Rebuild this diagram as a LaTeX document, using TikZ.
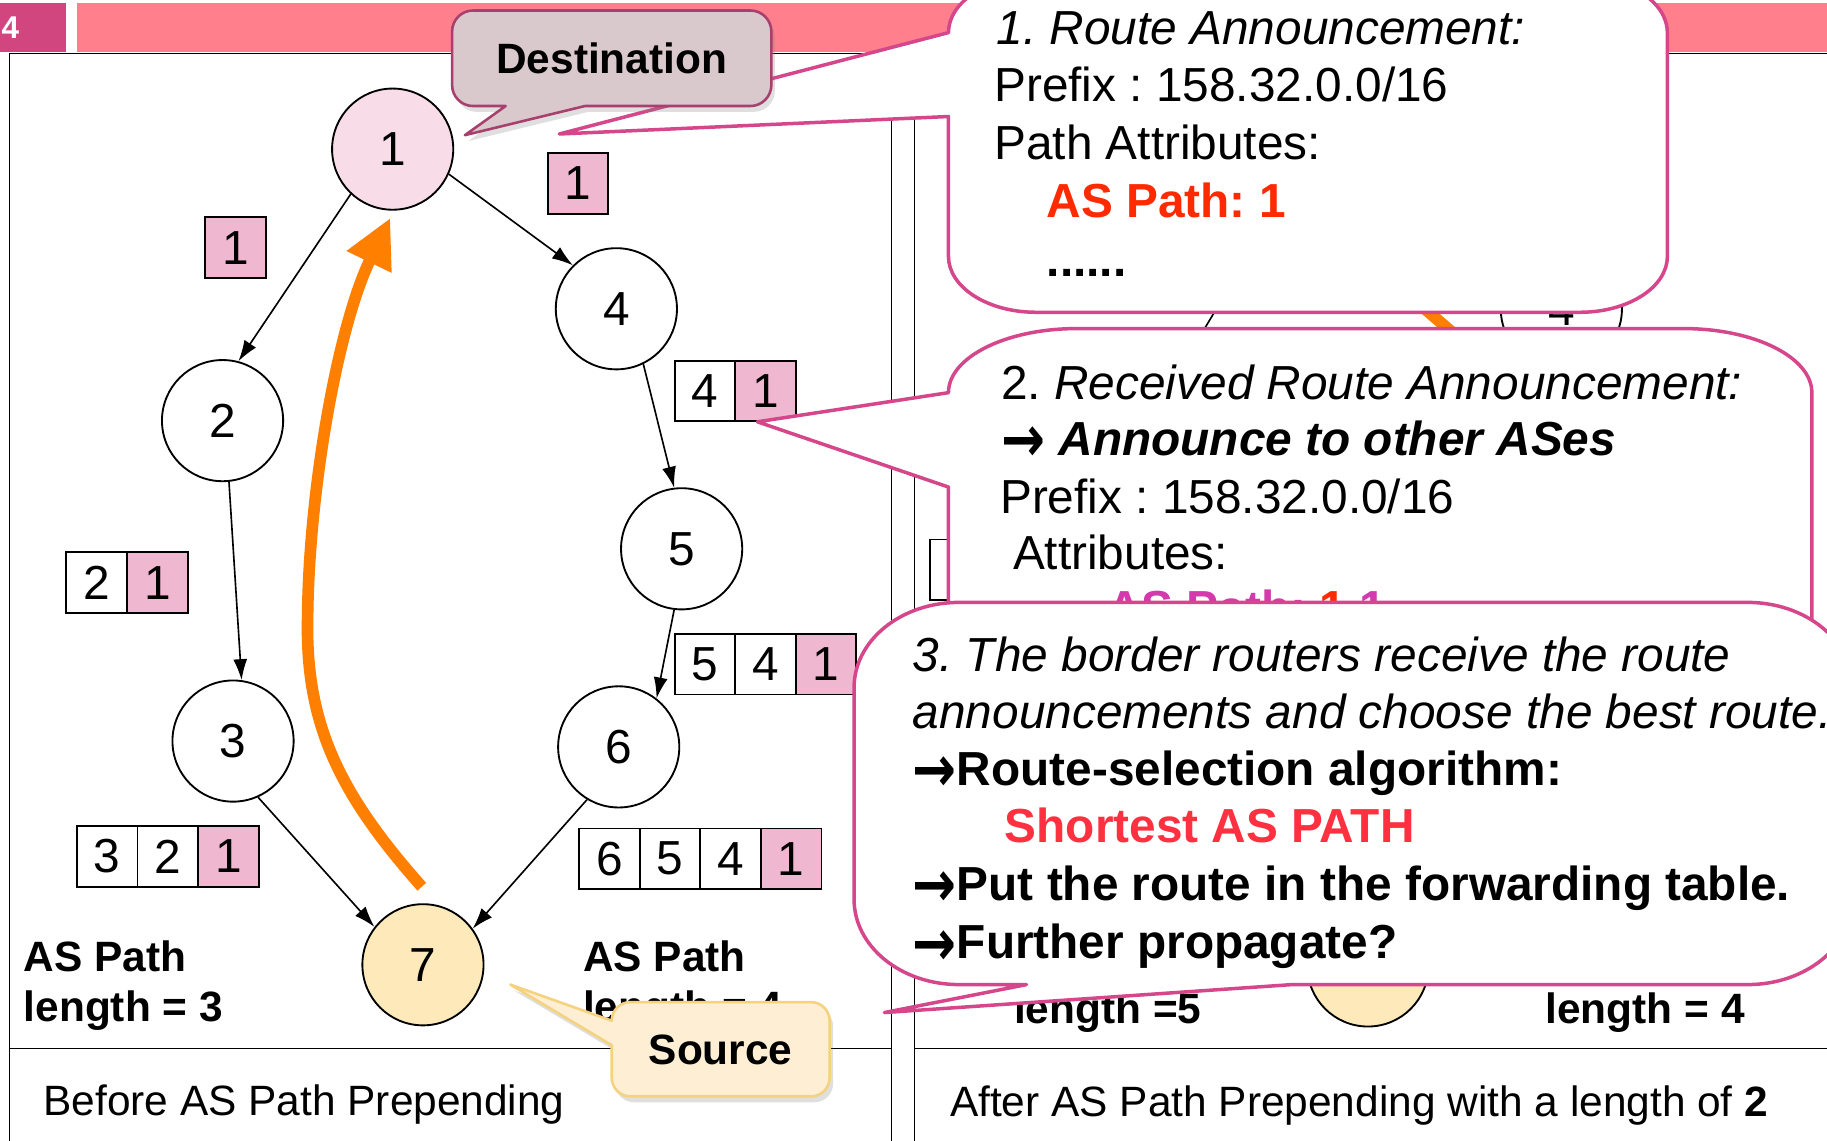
\documentclass[tikz,border=0pt]{standalone}
\usepackage{fontspec}
\setmainfont{Liberation Sans}
\newfontfamily\arrowfont{DejaVu Sans}
\usetikzlibrary{arrows.meta,shadows}
\frenchspacing

\definecolor{hdrdark}{HTML}{D1467F}
\definecolor{hdrlight}{HTML}{FF7F8D}
\definecolor{cellpink}{HTML}{F0B7D0}
\definecolor{destnode}{HTML}{F8DCE8}
\definecolor{srcnode}{HTML}{FDE9B9}
\definecolor{calloutline}{HTML}{D5478A}
\definecolor{destfill}{HTML}{D9C9CD}
\definecolor{destline}{HTML}{A8406E}
\definecolor{srcfill}{HTML}{FDEED4}
\definecolor{srcline}{HTML}{F5D27F}
\definecolor{flow}{HTML}{FF7F00}
\definecolor{aspathred}{HTML}{FF2A00}
\definecolor{shortred}{HTML}{FF3040}
\definecolor{aspathmag}{HTML}{D43AAE}

\newcommand\txtbig{\fontsize{20.5pt}{24pt}\selectfont}
\newcommand\txtmid{\fontsize{18.2pt}{22pt}\selectfont}
\newcommand\boldarrow{\raisebox{-0.13em}{\scalebox{1.1}[1.35]{\arrowfont\bfseries\upshape →}}}

\begin{document}
\begin{tikzpicture}[x=0.5pt, y=-0.5pt,
  asnode/.style={circle, draw, line width=0.8pt, minimum size=52pt, inner sep=0pt, font=\txtbig, fill=white},
  cell/.style={rectangle, draw, line width=0.8pt, minimum width=26pt, minimum height=26pt, inner sep=0pt, font=\txtbig, fill=white},
  pcell/.style={cell, fill=cellpink},
  link/.style={line width=0.7pt, -{Latex[length=9pt,width=6pt]}},
  panel/.style={line width=0.7pt},
  ctext/.style={anchor=base west, inner sep=0pt, font=\txtbig},
  aslabel/.style={anchor=base west, inner sep=0pt, font=\txtmid\bfseries},
  capt/.style={anchor=base west, inner sep=0pt, font=\txtmid},
  bubble/.style={draw=calloutline, line width=1.5pt, fill=white, line join=round},
  flowarrow/.style={draw=flow, line width=5pt, -{Triangle[length=21pt,width=20pt]}}
]
\clip (0,0) rectangle (1568,979);
\fill[white] (0,0) rectangle (1568,979);

% slide header
\fill[hdrdark] (0,3) rectangle (57,45);
\node[anchor=base west, inner sep=0pt, text=white, font=\fontsize{13.5pt}{15pt}\selectfont\bfseries] (slidenum) at (1,33) {4};
\fill[hdrlight] (66,3) rectangle (1568,45);

% the two panels
\draw[panel] (8,979) -- (8,46) -- (765,46) -- (765,979);
\draw[panel] (785,979) -- (785,46) -- (1568,46);
\draw[panel] (8,900) -- (765,900);
\draw[panel] (785,900) -- (1568,900);

% right panel: after prepending
\node[asnode] (r4) at (1340,265) {4};
\coordinate (ra) at (1020,305);
\coordinate (rb) at (1056,245);
\draw[panel] (ra) -- (rb);
\coordinate (rc) at (1210,254);
\coordinate (rd) at (1260,297);
\draw[draw=flow, line width=5pt] (rc) -- (rd);
\node[cell] (rcell) at (824,489) {};
\node[asnode, fill=srcnode] (r7) at (1174,829) {};
\node[aslabel] (rlen5) at (870,878) {length =5};
\node[aslabel] (rlen4) at (1326,878) {length = 4};
\node[capt] (capR) at (815,958) {After AS Path Prepending with a length of \textbf{2}};

% left panel: before prepending
\node[asnode, fill=destnode] (n1) at (337,128) {1};
\node[asnode] (n4) at (529,265) {4};
\node[asnode] (n2) at (191,361) {2};
\node[asnode] (n5) at (585,471) {5};
\node[asnode] (n3) at (200,636) {3};
\node[asnode] (n6) at (531,641) {6};
\node[asnode, fill=srcnode] (n7) at (363,828) {7};

\draw[link] (n1.227) -- (n2.75);
\draw[link] (n1.336) -- (n4.135);
\draw[link] (n2.276) -- (n3.82);
\draw[link] (n4.296) -- (n5.97);
\draw[link] (n5.263) -- (n6.52);
\draw[link] (n3.294) -- (n7.142);
\draw[link] (n6.239) -- (n7.36);

% traffic direction
\draw[flowarrow] (362,761) .. controls (290,680) and (262,620) .. (264,530)
  .. controls (265,420) and (290,280) .. (335,187);

% AS path records
\node[pcell] (pa1) at (496,157.5) {1};
\node[pcell] (pb1) at (202,212.5) {1};
\node[cell]  (pc4) at (605,335.5) {4};
\node[pcell] (pc1) at (657,335.5) {1};
\node[cell]  (pd2) at (83,500) {2};
\node[pcell] (pd1) at (135,500) {1};
\node[cell]  (pe5) at (605,570) {5};
\node[cell]  (pe4) at (657,570) {4};
\node[pcell] (pe1) at (709,570) {1};
\node[cell]  (pf3) at (92,735) {3};
\node[cell]  (pf2) at (144,735) {2};
\node[pcell] (pf1) at (196,735) {1};
\node[cell]  (pg6) at (523,737) {6};
\node[cell]  (pg5) at (575,737) {5};
\node[cell]  (pg4) at (627,737) {4};
\node[pcell] (pg1) at (679,737) {1};

\node[aslabel] (lpA) at (20,834) {AS Path};
\node[aslabel] (lpB) at (20,877) {length = 3};
\node[aslabel] (rpA) at (500,834) {AS Path};
\node[aslabel] (rpB) at (500,877) {length = 4};
\node[capt] (capL) at (37,957) {Before AS Path Prepending};

% Source callout
\path[draw=srcline, line width=1.1pt, fill=srcfill, line join=round,
  drop shadow={opacity=0.25, shadow xshift=1.5pt, shadow yshift=-2.5pt}]
  (438,845) -- (525,876) .. controls (525,867.2) and (532.2,860) .. (541,860)
  -- (696,860) .. controls (704.8,860) and (712,867.2) .. (712,876)
  -- (712,925) .. controls (712,933.8) and (704.8,941) .. (696,941)
  -- (541,941) .. controls (532.2,941) and (525,933.8) .. (525,925)
  -- (525,897) -- cycle;
\node[font=\txtmid\bfseries, inner sep=0pt] (src) at (618.5,901) {Source};

% callout 1: route announcement
\path[bubble]
  (480,115) -- (814,28) .. controls (814,1.5) and (847.6,-20) .. (889,-20)
  -- (1356,-20) .. controls (1397.4,-20) and (1431,1.5) .. (1431,28)
  -- (1431,220) .. controls (1431,246.5) and (1397.4,268) .. (1356,268)
  -- (889,268) .. controls (847.6,268) and (814,246.5) .. (814,220)
  -- (814,100) -- cycle;
\node[ctext] (c1a) at (855,38) {\textit{1. Route Announcement:}};
\node[ctext] (c1b) at (853,87) {Prefix : 158.32.0.0/16};
\node[ctext] (c1c) at (853,137) {Path Attributes:};
\node[ctext, font=\txtbig\bfseries, text=aspathred] (c1d) at (898,187) {AS Path: 1};
\node[ctext, font=\txtbig\bfseries] (c1e) at (898,237) {......};

% Destination callout
\path[draw=destline, line width=1.1pt, fill=destfill, line join=round,
  drop shadow={opacity=0.25, shadow xshift=1.5pt, shadow yshift=-2.5pt}]
  (399,116) -- (434,91) -- (406,91) .. controls (396.1,91) and (388,82.9) .. (388,73)
  -- (388,27) .. controls (388,17.1) and (396.1,9) .. (406,9)
  -- (644,9) .. controls (653.9,9) and (662,17.1) .. (662,27)
  -- (662,73) .. controls (662,82.9) and (653.9,91) .. (644,91)
  -- (502,91) -- cycle;
\node[font=\txtmid\bfseries, inner sep=0pt] (dst) at (525,50) {Destination};

% callout 2: received announcement
\path[bubble]
  (650,362) -- (814,337) .. controls (814,306.6) and (863.3,282) .. (924,282)
  -- (1445,282) .. controls (1505.7,282) and (1555,306.6) .. (1555,337)
  -- (1555,560) -- (814,560) -- (814,418) -- cycle;
\node[ctext] (c2a) at (859,343) {2. \textit{Received Route Announcement:}};
\node[ctext, font=\txtbig\bfseries\itshape] (c2b) at (859,391) {\boldarrow\ Announce to other ASes};
\node[ctext] (c2c) at (858,441) {Prefix : 158.32.0.0/16};
\node[ctext] (c2d) at (869,489) {Attributes:};
\node[ctext, font=\txtbig\bfseries] (c2e) at (950,536) {\textcolor{aspathmag}{AS Path:} \textcolor{aspathred}{1} \textcolor{aspathmag}{1}};

% callout 3: route selection
\path[bubble]
  (759,869) -- (881,845) -- (823,845) .. controls (773.3,845) and (733,812.3) .. (733,772)
  -- (733,590) .. controls (733,549.7) and (773.3,517) .. (823,517)
  -- (1500,517) .. controls (1549.7,517) and (1590,549.7) .. (1590,590)
  -- (1590,772) .. controls (1590,812.3) and (1549.7,845) .. (1500,845)
  -- (1109,845) -- cycle;
\node[ctext, font=\txtbig\itshape] (c3a) at (783,576) {3. The border routers receive the route};
\node[ctext, font=\txtbig\itshape] (c3b) at (783,625) {announcements and choose the best route.};
\node[ctext, font=\txtbig\bfseries] (c3c) at (783,674) {\boldarrow Route-selection algorithm:};
\node[ctext, font=\txtbig\bfseries, text=shortred] (c3d) at (862,723) {Shortest AS PATH};
\node[ctext, font=\txtbig\bfseries] (c3e) at (783,773) {\boldarrow Put the route in the forwarding table.};
\node[ctext, font=\txtbig\bfseries] (c3f) at (783,823) {\boldarrow Further propagate?};
\end{tikzpicture}
\end{document}
